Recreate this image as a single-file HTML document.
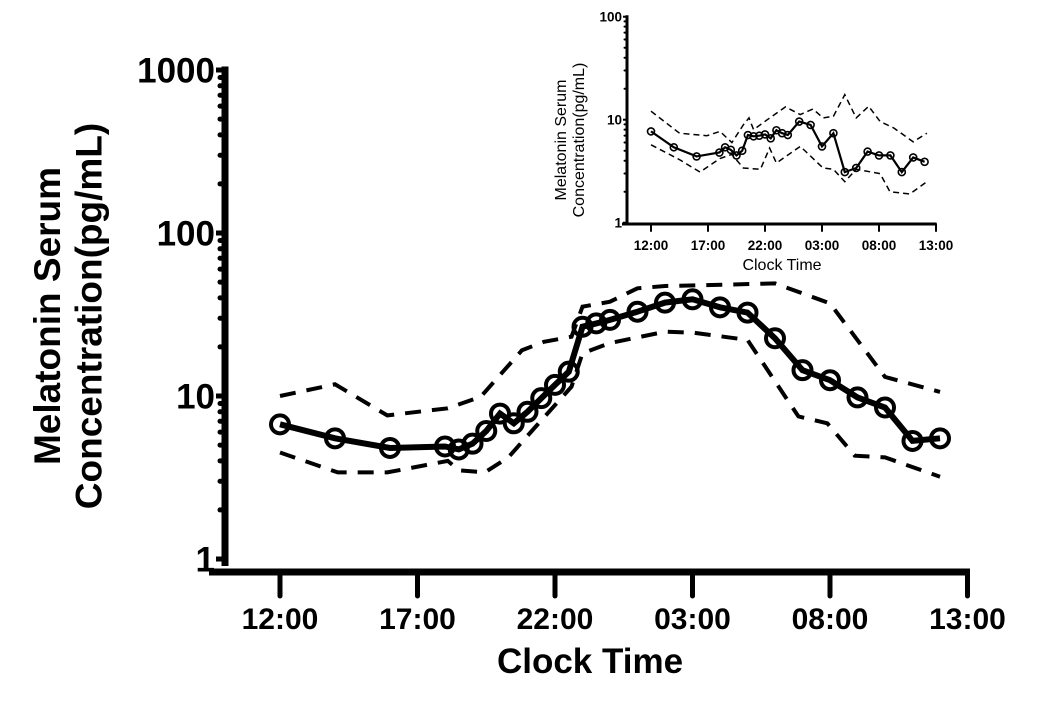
<!DOCTYPE html>
<html><head><meta charset="utf-8"><style>
html,body{margin:0;padding:0;background:#fff;}
svg{display:block;font-family:"Liberation Sans",Arial,sans-serif;}
</style></head><body>
<svg id="chart" width="1050" height="707" viewBox="0 0 1050 707" xmlns="http://www.w3.org/2000/svg"></svg>
<script>
// ---- main chart data (hours after 12:00, pg/mL) ----
const mainHours = [0,2,4,6,6.5,7,7.5,8,8.5,9,9.5,10,10.5,11,11.5,12,13,14,15,16,17,18,19,20,21,22,23,24];
const mainMean = [6.7,5.5,4.8,4.9,4.7,5.1,6.1,7.8,6.8,8.0,9.7,11.7,14.1,26.6,27.9,29.3,32.9,37.4,39.2,35.0,32.5,22.6,14.4,12.5,9.8,8.5,5.3,5.5];
const mainUpperHours = [0,2,3.9,6.1,7.3,8.8,9.6,10.6,11,12,13,14,15.7,18,20,22,24];
const mainUpper = [10,11.8,7.6,8.4,9.9,19.1,21.5,23.1,35.3,37.9,45.8,47.3,48,49.1,37.0,13.1,10.6];
const mainLowerHours = [0,2.1,3.9,6.1,6.5,7.45,8.3,9.3,10.6,11,12,14,15,17,18.85,19.9,20.9,22,24];
const mainLower = [4.5,3.4,3.4,4.0,3.5,3.4,4.2,6.5,11.4,18.3,21.1,24.8,24.5,22.1,7.5,6.8,4.3,4.2,3.2];
// ---- inset data ----
const insetHours = [0,2,4,6,6.5,7,7.5,8,8.5,9,9.5,10,10.5,11,11.5,12,13,14,15,16,17,18,19,20,21,22,23,24];
const insetMean = [7.7,5.4,4.4,4.8,5.4,5.1,4.5,5.0,7.1,6.9,7.0,7.2,6.6,7.9,7.4,7.1,9.6,8.9,5.5,7.4,3.1,3.4,4.9,4.5,4.5,3.1,4.3,3.9];
const insetUpperHours = [0,2.5,4.9,6.05,7.1,8.1,8.6,9,10.2,11.8,13.1,14.2,15.1,16,17,18,19.1,20.1,21.3,23,24.2];
const insetUpper = [12.1,7.4,7.0,7.7,6.0,8.9,10.4,8.0,10,13.3,11.2,12.7,10.4,10.8,17.5,10.4,13.5,9.6,8.3,6.1,7.4];
const insetLowerHours = [0,2.5,4.3,6.05,7.1,8.1,9.6,10.4,11,13.1,15.1,16,17,18,20.1,20.96,22.7,24.2];
const insetLower = [5.7,4.1,3.1,4.2,4.6,3.4,3.3,5.3,3.8,5.5,3.4,3.3,2.5,3.3,3.0,2.0,1.9,2.5];
const xTickLabels = ["12:00","17:00","22:00","03:00","08:00","13:00"];
const mainYTicks = [1,10,100,1000];
const insetYTicks = [1,10,100];

const NS="http://www.w3.org/2000/svg";
const svg=document.getElementById('chart');
function el(tag,attrs,parent,text){const e=document.createElementNS(NS,tag);for(const k in attrs)e.setAttribute(k,attrs[k]);if(text!==undefined)e.textContent=text;(parent||svg).appendChild(e);return e;}

function drawChart(c){
  const g=el('g',{});
  
  
  const X=h=>c.x0+h*c.xph;
  const Y=v=>c.y1-Math.log10(v)*c.dec;
  const ya=el('line',{x1:c.sx,y1:Y(c.ymax)-c.aw/2,x2:c.sx,y2:c.yEnd,stroke:'#000','stroke-width':c.aw},g);
  
  
  for(let d=0;d<Math.log10(c.ymax);d++){
    for(let m=2;m<=9;m++){
      const yy=Y(m*Math.pow(10,d));
      el('line',{x1:c.sx,y1:yy,x2:c.sx-c.minor,y2:yy,stroke:'#000','stroke-width':c.tw,'stroke-linecap':'round'},g);
    }
  }
  c.yticks.forEach(v=>{
    const yy=Y(v);
    el('line',{x1:c.sx,y1:yy,x2:c.sx-c.major,y2:yy,stroke:'#000','stroke-width':c.tw},g);
    const t=el('text',{x:c.sx-c.major-1,y:yy+c.yfs*0.36,'text-anchor':'end','font-size':c.yfs,'font-weight':'bold'},g,String(v));
    
    
  });
  const xa=el('line',{x1:c.xa0,y1:c.xy,x2:X(25)+c.aw/2-1,y2:c.xy,stroke:'#000','stroke-width':c.aw},g);
  
  
  xTickLabels.forEach((lab,i)=>{
    const xx=X(i*5);
    el('line',{x1:xx,y1:c.xy,x2:xx,y2:c.xy+c.xt,stroke:'#000','stroke-width':c.tw,'stroke-linecap':'round'},g);
    const t=el('text',{x:xx,y:c.xly,'text-anchor':'middle','font-size':c.fs,'font-weight':'bold'},g,lab);
    
    
  });
  const xt=el('text',{x:c.xtx,y:c.xty,'text-anchor':'middle','font-size':c.tfs,'font-weight':c.tfw},g,'Clock Time');
  
  
  const yt=el('text',{transform:`translate(${c.ytx},${c.yty}) rotate(-90)`,'text-anchor':'middle','font-size':c.ytfs,'font-weight':c.tfw},g);
  
  
  el('tspan',{x:0,dy:0},yt,'Melatonin Serum');
  el('tspan',{x:0,dy:c.ytfs*1.12},yt,'Concentration(pg/mL)');
  const pts=(hs,vs)=>hs.map((h,i)=>X(h).toFixed(1)+','+Y(vs[i]).toFixed(1)).join(' ');
  const up=el('polyline',{points:pts(c.uh,c.uv),fill:'none',stroke:'#000','stroke-width':c.dw,'stroke-dasharray':c.dash},g);
  
  
  const lo=el('polyline',{points:pts(c.lh,c.lv),fill:'none',stroke:'#000','stroke-width':c.dw,'stroke-dasharray':c.dash},g);
  
  
  const mn=el('polyline',{points:pts(c.mh,c.mv),fill:'none',stroke:'#000','stroke-width':c.lw},g);
  
  
  c.mh.forEach((h,i)=>{
    const p=el('circle',{cx:X(h),cy:Y(c.mv[i]),r:c.r,fill:'none',stroke:'#000','stroke-width':c.cw},g);
    
    
  });
}

drawChart({name:'main-chart',x0:280,xph:27.5,y1:559,dec:163,ymax:1000,yticks:mainYTicks,
  sx:225,yEnd:566,aw:7,tw:5,minor:5,major:9,fs:30,yfs:35,xa0:209,xy:572,xt:24,xly:629,
  xtx:590,xty:673,tfs:35,ytfs:37,tfw:'bold',ytx:60,yty:316,
  uh:mainUpperHours,uv:mainUpper,lh:mainLowerHours,lv:mainLower,mh:mainHours,mv:mainMean,
  dw:4,dash:'16,11',lw:6,r:9,cw:4});
drawChart({name:'inset-chart',x0:651,xph:11.4,y1:222.7,dec:103,ymax:100,yticks:insetYTicks,
  sx:627,yEnd:224,aw:3,tw:2,minor:2.5,major:4,fs:13.5,yfs:13.5,xa0:622,xy:224,xt:7,xly:250,
  xtx:782,xty:270,tfs:16,ytfs:16,tfw:'normal',ytx:566,yty:140,
  uh:insetUpperHours,uv:insetUpper,lh:insetLowerHours,lv:insetLower,mh:insetHours,mv:insetMean,
  dw:1.5,dash:'6,4',lw:2.2,r:3.5,cw:1.6});
</script>
</body></html>
